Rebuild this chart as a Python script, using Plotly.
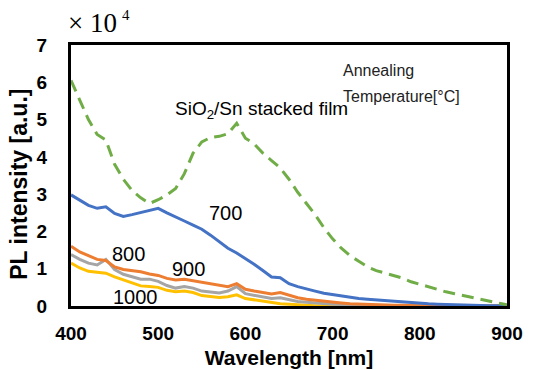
import plotly.graph_objects as go

wavelength = list(range(400, 901, 10))

sio2_sn = [6.05, 5.50, 5.00, 4.60, 4.45, 3.80, 3.40, 3.10, 2.90, 2.75,
           2.85, 2.98, 3.15, 3.55, 4.10, 4.40, 4.52, 4.55, 4.62, 4.90,
           4.50, 4.35, 4.10, 3.90, 3.70, 3.40, 3.05, 2.75, 2.45, 2.10,
           1.80, 1.55, 1.35, 1.20, 1.05, 0.95, 0.88, 0.82, 0.75, 0.65,
           0.58, 0.50, 0.45, 0.38, 0.33, 0.28, 0.22, 0.18, 0.12, 0.07, 0.03]

t700 = [2.98, 2.84, 2.70, 2.62, 2.66, 2.48, 2.40, 2.45, 2.50, 2.56,
        2.62, 2.50, 2.38, 2.28, 2.17, 2.06, 1.90, 1.72, 1.55, 1.42,
        1.28, 1.12, 0.95, 0.78, 0.76, 0.60, 0.52, 0.45, 0.40, 0.34,
        0.30, 0.26, 0.24, 0.20, 0.18, 0.16, 0.14, 0.12, 0.10, 0.09,
        0.07, 0.06, 0.05, 0.04, 0.03, 0.03, 0.02, 0.02, 0.01, 0.01, 0.01]

t800 = [1.60, 1.45, 1.35, 1.25, 1.22, 1.05, 0.98, 0.95, 0.92, 0.86,
        0.82, 0.74, 0.70, 0.72, 0.68, 0.63, 0.60, 0.55, 0.52, 0.60,
        0.45, 0.40, 0.36, 0.32, 0.36, 0.28, 0.22, 0.18, 0.15, 0.12,
        0.10, 0.08, 0.06, 0.05, 0.04, 0.03, 0.02, 0.02, 0.02, 0.01,
        0.01, 0.01, 0.01, 0.01, 0.0, 0.0, 0.0, 0.0, 0.0, 0.0, 0.0]

t900 = [1.38, 1.25, 1.15, 1.10, 1.25, 0.98, 0.85, 0.78, 0.72, 0.72,
        0.66, 0.55, 0.48, 0.52, 0.48, 0.40, 0.38, 0.35, 0.40, 0.52,
        0.33, 0.28, 0.24, 0.20, 0.22, 0.16, 0.12, 0.10, 0.08, 0.06,
        0.05, 0.04, 0.03, 0.02, 0.02, 0.01, 0.01, 0.01, 0.0, 0.0,
        0.0, 0.0, 0.0, 0.0, 0.0, 0.0, 0.0, 0.0, 0.0, 0.0, 0.0]

t1000 = [1.15, 1.02, 0.93, 0.90, 0.88, 0.78, 0.70, 0.60, 0.54, 0.52,
         0.50, 0.42, 0.38, 0.40, 0.36, 0.28, 0.25, 0.23, 0.25, 0.30,
         0.20, 0.16, 0.12, 0.08, 0.06, 0.05, 0.03, 0.02, 0.01, 0.0,
         0.0, 0.0, 0.0, 0.0, 0.0, 0.0, 0.0, 0.0, 0.0, 0.0,
         0.0, 0.0, 0.0, 0.0, 0.0, 0.0, 0.0, 0.0, 0.0, 0.0, 0.0]

x_ticks = [400, 500, 600, 700, 800, 900]
y_ticks = [0, 1, 2, 3, 4, 5, 6, 7]

SANS = "Liberation Sans, Arial, sans-serif"
SERIF = "Liberation Serif, Times New Roman, serif"

fig = go.Figure()
series = [
    (t1000, "#FFC000", "solid"),
    (t900, "#A5A5A5", "solid"),
    (t800, "#ED7D31", "solid"),
    (t700, "#4472C4", "solid"),
    (sio2_sn, "#70AD47", "12px,7px"),
]
for ys, col, dash in series:
    fig.add_trace(go.Scatter(x=wavelength, y=ys, mode="lines",
                             line=dict(color=col, width=3, dash=dash),
                             showlegend=False))

labels = [
    ("SiO<sub>2</sub>/Sn stacked film", 619, 5.25, 19),
    ("700", 577, 2.5, 20),
    ("800", 466, 1.4, 20),
    ("900", 535, 1.0, 20),
    ("1000", 474, 0.25, 20),
]
annotations = [dict(x=x, y=y, text=t, showarrow=False, xref="x", yref="y",
                    font=dict(family=SANS, size=s, color="black"))
               for t, x, y, s in labels]
for txt, yp in [("Annealing", 0.904), ("Temperature[°C]", 0.801)]:
    annotations.append(dict(x=0.62, y=yp, xref="paper", yref="paper",
                            xanchor="left", yanchor="middle", align="left",
                            text=txt, showarrow=False,
                            font=dict(family=SANS, size=16, color="#222")))
annotations.append(dict(x=-0.012, y=1.02, xref="paper", yref="paper",
                        xanchor="left", yanchor="bottom",
                        text="× 10", showarrow=False,
                        font=dict(family=SERIF, size=27, color="black")))
annotations.append(dict(x=0.113, y=1.115, xref="paper", yref="paper",
                        xanchor="left", yanchor="middle",
                        text="4", showarrow=False,
                        font=dict(family=SERIF, size=15, color="black")))
annotations.append(dict(x=-0.12, y=0.467, xref="paper", yref="paper",
                        xanchor="center", yanchor="middle", textangle=-90,
                        text="PL intensity [a.u.]", showarrow=False,
                        font=dict(family=SANS, size=23, color="black", weight="bold")))

fig.update_layout(
    width=536, height=370,
    margin=dict(l=71, r=29, t=45, b=64, autoexpand=False),
    paper_bgcolor="white", plot_bgcolor="white",
    annotations=annotations,
    xaxis=dict(range=[400, 900], tickvals=x_ticks, showgrid=False, zeroline=False,
               showline=True, linecolor="black", linewidth=3, mirror=True,
               ticks="", ticklabelstandoff=8, automargin=False,
               tickfont=dict(family=SANS, size=19, color="black", weight="bold"),
               title=dict(text="Wavelength [nm]", standoff=8,
                          font=dict(family=SANS, size=21, color="black", weight="bold"))),
    yaxis=dict(range=[0, 7], tickvals=y_ticks, showgrid=False, zeroline=False,
               showline=True, linecolor="black", linewidth=3, mirror=True,
               ticks="", ticklabelstandoff=17, automargin=False,
               tickfont=dict(family=SANS, size=19, color="black", weight="bold")),
)

fig.write_html("out.html", config={"displayModeBar": False},
               post_script="document.body.style.margin='0px';document.body.style.overflow='hidden';")
